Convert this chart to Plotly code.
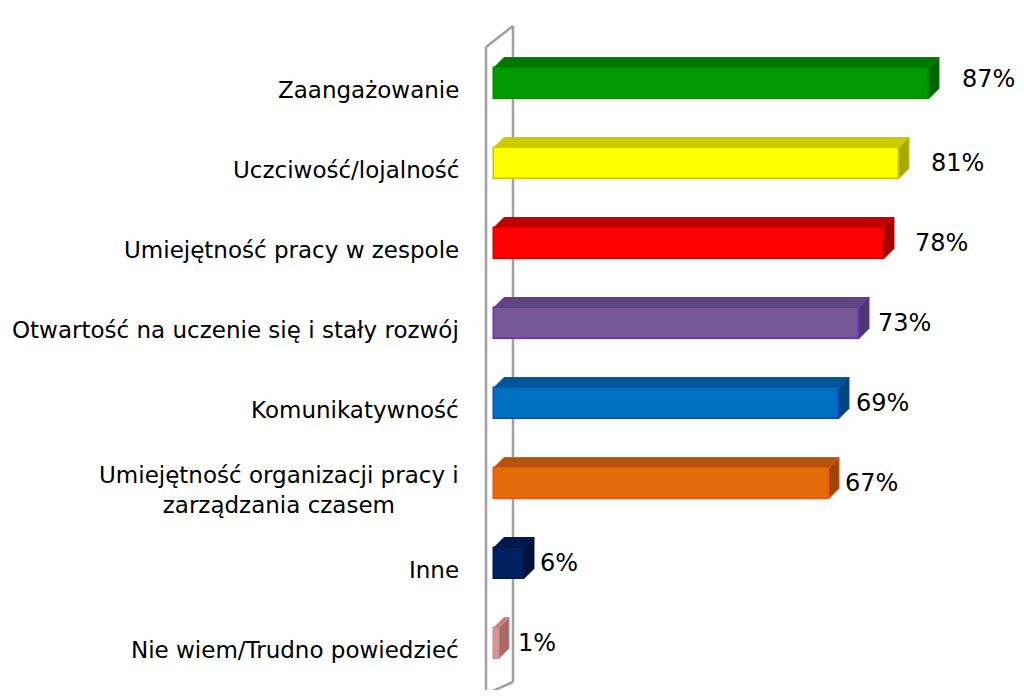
import plotly.graph_objects as go

# ---------------- data ----------------
categories = [
    "Zaangażowanie",
    "Uczciwość/lojalność",
    "Umiejętność pracy w zespole",
    "Otwartość na uczenie się i stały rozwój",
    "Komunikatywność",
    "Umiejętność organizacji pracy i<br>zarządzania czasem",
    "Inne",
    "Nie wiem/Trudno powiedzieć",
]
values = [87, 81, 78, 73, 69, 67, 6, 1]
value_labels = ["87%", "81%", "78%", "73%", "69%", "67%", "6%", "1%"]

# ---------------- styles ----------------
front_colors = ["#009A00", "#FFFF00", "#FF0000", "#775896", "#0070C0", "#E46C0A", "#002060", "#D99694"]
outline_colors = ["#008A00", "#C8C800", "#D40000", "#7028C8", "#1F44C4", "#FF4A1A", "#001850", "#D08C8A"]
top_colors = ["#007800", "#CCCC00", "#C00000", "#5C4580", "#005599", "#B4540A", "#00184C", "#C08080"]
side_colors = ["#006200", "#A8A800", "#A00000", "#4A3868", "#00457E", "#9A4808", "#001238", "#A86868"]
label_gap_px = [31, 30, 29, 17, 15, 14, 14, 17]
label_lift_px = [4, 0, 0, 0, 0, 0, 0, 0]

PAGE_MARGIN = 8          # default body margin of the html page
W, H = 1024 - 2 * PAGE_MARGIN, 698 - 2 * PAGE_MARGIN
X0_PX, PX_PER_UNIT = 494, 5.0
Y0_PX, PX_PER_CAT = 83, 80.0
BAR_PX = 31
DEPTH_PX = 10

def px_x(p):
    return (p - X0_PX) / PX_PER_UNIT

def px_y(p):
    return (p - Y0_PX) / PX_PER_CAT

xr = [px_x(PAGE_MARGIN), px_x(PAGE_MARGIN + W)]
yr = [px_y(PAGE_MARGIN + H), px_y(PAGE_MARGIN)]

dx = DEPTH_PX / PX_PER_UNIT
dy = DEPTH_PX / PX_PER_CAT
bw = BAR_PX / PX_PER_CAT

idx = list(range(len(categories)))

fig = go.Figure()
fig.add_trace(go.Bar(
    x=values, y=idx, orientation="h", width=bw,
    marker=dict(color=front_colors, line=dict(color=outline_colors, width=1.5)),
    hoverinfo="skip", showlegend=False,
))

shapes = []
# wall (axis plane)
wall_col = "#A0A0A0"
wall = [
    (486, 47, 486, 694),
    (513, 26, 513, 682),
    (486, 47, 513, 26),
    (486, 694, 513, 682),
]
for x1, y1, x2, y2 in wall:
    shapes.append(dict(type="line", xref="x", yref="y", layer="below",
                       x0=px_x(x1), y0=px_y(y1), x1=px_x(x2), y1=px_y(y2),
                       line=dict(color=wall_col, width=2.5)))

for i, v in enumerate(values):
    yt = i - bw / 2
    yb = i + bw / 2
    top = f"M 0,{yt} L {v},{yt} L {v+dx},{yt-dy} L {dx},{yt-dy} Z"
    side = f"M {v},{yt} L {v+dx},{yt-dy} L {v+dx},{yb-dy} L {v},{yb} Z"
    shapes.append(dict(type="path", xref="x", yref="y", layer="above", path=top,
                       fillcolor=top_colors[i], line=dict(color=outline_colors[i], width=1)))
    shapes.append(dict(type="path", xref="x", yref="y", layer="above", path=side,
                       fillcolor=side_colors[i], line=dict(color=outline_colors[i], width=1)))

font_family = "DejaVu Sans"
annotations = []
for i, c in enumerate(categories):
    annotations.append(dict(x=px_x(461), y=i, xref="x", yref="y", text=c,
                            xanchor="right", yanchor="middle", align="center",
                            yshift=-7, showarrow=False,
                            font=dict(family=font_family, size=23, color="#000000")))
for i, (v, t) in enumerate(zip(values, value_labels)):
    annotations.append(dict(x=v, y=i, xref="x", yref="y", text=t,
                            xanchor="left", yanchor="middle",
                            xshift=label_gap_px[i], yshift=label_lift_px[i],
                            showarrow=False,
                            font=dict(family=font_family, size=24, color="#000000")))

fig.update_layout(
    width=W, height=H,
    margin=dict(l=0, r=0, t=0, b=0),
    paper_bgcolor="white", plot_bgcolor="white",
    xaxis=dict(range=xr, visible=False, fixedrange=True),
    yaxis=dict(range=yr, visible=False, fixedrange=True),
    shapes=shapes, annotations=annotations,
    bargap=0, showlegend=False,
)

fig.write_html("out.html")
